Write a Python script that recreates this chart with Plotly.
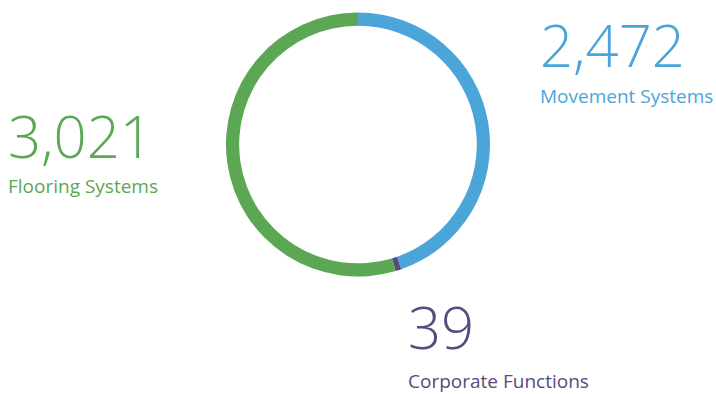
import plotly.graph_objects as go

labels = ["Movement Systems", "Corporate Functions", "Flooring Systems"]
values = [2472, 39, 3021]
value_text = ["2,472", "39", "3,021"]
colors = ["#4BA5D9", "#544C7C", "#5BA753"]

fig = go.Figure(go.Pie(
    labels=labels, values=values, hole=0.9, sort=False, direction="clockwise",
    rotation=0, marker=dict(colors=colors, line=dict(width=0)),
    textinfo="none", hoverinfo="label+value",
    domain=dict(x=[0.3156, 0.6844], y=[0.297, 0.9695]),
))

fnt = "Open Sans"
# positions of label blocks (paper coords)
pos = {
    "Movement Systems": (0.752, 0.887, 0.757),
    "Flooring Systems": (0.008, 0.657, 0.527),
    "Corporate Functions": (0.567, 0.172, 0.033),
}
ann = []
for lab, vt, c in zip(labels, value_text, colors):
    x, ynum, ylab = pos[lab]
    ann.append(dict(x=x, y=ynum, xref="paper", yref="paper", xanchor="left", yanchor="middle",
                    text=vt, showarrow=False,
                    font=dict(family=fnt, size=58, color=c, weight=300)))
    ann.append(dict(x=x, y=ylab, xref="paper", yref="paper", xanchor="left", yanchor="middle",
                    text=lab, showarrow=False,
                    font=dict(family=fnt, size=19, color=c)))

fig.update_layout(
    width=716, height=394, margin=dict(l=0, r=0, t=0, b=0),
    paper_bgcolor="white", plot_bgcolor="white", showlegend=False,
    annotations=ann,
)
fig.write_html("out.html")
